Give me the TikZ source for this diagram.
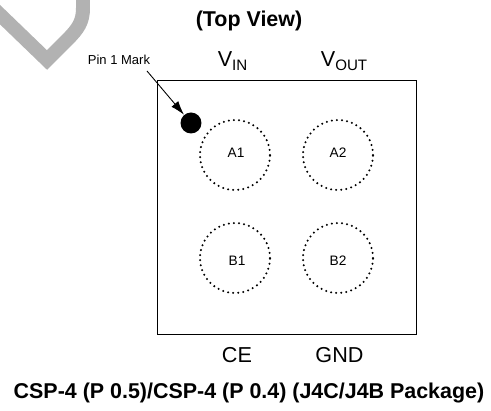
\documentclass[tikz,border=0pt]{standalone}
\usepackage{fontspec}
\setmainfont{Liberation Sans}
\usetikzlibrary{arrows,arrows.meta,positioning}

\begin{document}
\begin{tikzpicture}[x=0.02cm,y=-0.02cm]

        % Setup the styles
        \tikzset{pad style/.style={circle,
                                   draw,
                                   line width=1.3pt,
                                   line cap=round,
                                   dash pattern=on 0pt off 2.9pt,
                                   minimum size=1.4cm,
                                   inner sep=0pt},
                 pad label/.style={font=\fontsize{7.8}{8}\selectfont,inner sep=0pt},
                 pin label/.style={font=\fontsize{12.3}{14}\selectfont,inner sep=0pt},
                 title label/.style={font=\fontsize{12.2}{14}\selectfont\bfseries,inner sep=0pt}}
        \useasboundingbox (0,0) rectangle (491,411);

        % Watermark
        \draw[line width=0.28cm,gray!60!white,miter limit=10] (-10,5) -- (47,60) -- (67,40)
            .. controls (78,29) and (83,22) .. (83,8) -- (83,-5);

        % Draw the package
        \node[draw,line width=0.5pt,minimum width=5.18cm,minimum height=5.08cm,inner sep=0pt] at (286.5,207) (pkg) {};
        \node[pad style] at (235,155)     (a1)     {};
        \node[pad style] at (338,155)     (a2)     {};
        \node[pad style] at (235,258)     (b1)     {};
        \node[pad style] at (338,258)     (b2)     {};
        \node[pad label] at (236,153)     (a1t)     {A1};
        \node[pad label] at (338,153)     (a2t)     {A2};
        \node[pad label] at (237,261)     (b1t)     {B1};
        \node[pad label] at (338,261)     (b2t)     {B2};
        \node[circle,fill=black,minimum size=0.42cm,inner sep=0pt] at (191,123)     (mark)     {};

        % Draw the labels
        \node[title label] at (249,21)     (top)     {(Top View)};
        \node[pin label] at (233,61)     (vin)     {V\textsubscript{IN}};
        \node[pin label] at (344.5,61)     (vout)     {V\textsubscript{OUT}};
        \node[pin label] at (237,355)     (ce)     {CE};
        \node[pin label] at (339.5,355)     (gnd)     {GND};
        \node[font=\fontsize{7.4}{8}\selectfont,inner sep=0pt] at (119,60)     (pinlabel)     {Pin 1 Mark};
        \node[title label] at (249,393)     (pkgname)     {CSP-4 (P 0.5)/CSP-4 (P 0.4) (J4C/J4B Package)};

        % Connect the label with the mark
        \coordinate (start) at (147,71);
        \draw[-{Latex[length=8pt,width=5pt]},line width=0.5pt] (start) -- (mark);
    \end{tikzpicture}
\end{document}
